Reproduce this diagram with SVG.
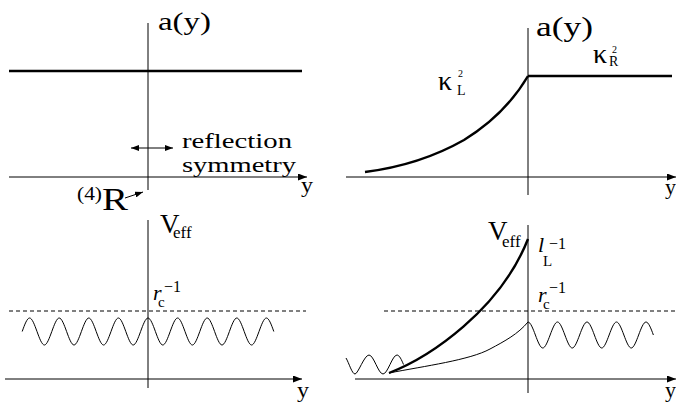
<svg xmlns="http://www.w3.org/2000/svg" width="676" height="403" viewBox="0 0 676 403" font-family="'Liberation Serif', 'Times New Roman', serif">
<style>
.ax{stroke:#000;stroke-width:1;fill:none}
.thick{stroke:#000;stroke-width:2.4;fill:none;stroke-linejoin:round}
.thin{stroke:#000;stroke-width:1;fill:none}
.dash{stroke:#000;stroke-width:1;fill:none;stroke-dasharray:4,3}
text{font-family:'Liberation Serif','Times New Roman',serif;fill:#000}
.it{font-style:italic}
</style>
<defs>
<marker id="ah" markerUnits="userSpaceOnUse" markerWidth="9" markerHeight="7" refX="9" refY="3.5" orient="auto">
<path d="M0,0 L9,3.5 L0,7 z" fill="#000"/>
</marker>
<marker id="sm" markerUnits="userSpaceOnUse" markerWidth="8" markerHeight="6" refX="8" refY="3" orient="auto-start-reverse">
<path d="M0,0 L8,3 L0,6 z" fill="#000"/>
</marker>
</defs>
<rect width="676" height="403" fill="#fff"/>

<g id="connectors">
<!-- top-left panel -->
<line class="ax" x1="148" y1="23" x2="148" y2="190"/>
<line class="ax" x1="9" y1="177" x2="307" y2="177" marker-end="url(#ah)"/>
<line class="thick" x1="9" y1="71" x2="302" y2="71"/>
<line class="thin" x1="131" y1="148" x2="173" y2="148" marker-start="url(#sm)" marker-end="url(#sm)"/>
<line class="thin" x1="125" y1="198" x2="143" y2="192" marker-end="url(#sm)"/>
<!-- top-right panel -->
<line class="ax" x1="528" y1="28" x2="528" y2="195"/>
<line class="ax" x1="346" y1="177" x2="676" y2="177" marker-end="url(#ah)"/>
<line class="thick" x1="528" y1="76" x2="672" y2="76"/>
<path class="thick" d="M365,172 Q420,165 464,140 Q505,115 528,76"/>
<!-- bottom-left panel -->
<line class="ax" x1="148" y1="220" x2="148" y2="388"/>
<line class="ax" x1="5" y1="379" x2="302" y2="379" marker-end="url(#ah)"/>
<line class="dash" x1="9" y1="311" x2="306" y2="311"/>
<path class="thin" d="M22.2,331.5 C24.67,324.43 27.13,318 29.6,318 C34.53,318 39.47,345 44.4,345 S54.27,318 59.2,318 S69.07,345 74,345 S83.87,318 88.8,318 S98.67,345 103.6,345 S113.47,318 118.4,318 S128.27,345 133.2,345 S143.07,318 148,318 S157.87,345 162.8,345 S172.67,318 177.6,318 S187.47,345 192.4,345 S202.27,318 207.2,318 S217.07,345 222,345 S231.87,318 236.8,318 S246.67,345 251.6,345 S261.47,318 266.4,318 C268.87,318 271.33,324.43 273.8,331.5"/>
<!-- bottom-right panel -->
<line class="ax" x1="528" y1="225" x2="528" y2="393"/>
<line class="ax" x1="355" y1="379" x2="676" y2="379" marker-end="url(#ah)"/>
<line class="dash" x1="384" y1="311" x2="676" y2="311"/>
<path class="thick" d="M389,373 C430,357 500,310 528,239"/>
<path class="thin" d="M389,373 C425,366 470,360 490,349 C505,341 518,334 528,322"/>
<path class="thin" d="M528,322 C532.92,322 537.83,348 542.75,348 S552.58,322 557.5,322 S567.33,348 572.25,348 S582.08,322 587,322 S596.83,348 601.75,348 S611.58,322 616.5,322 S626.33,348 631.25,348 S641.08,322 646,322 C648.46,322 650.92,328.19 653.38,335"/>
<path class="thin" d="M346,358 C349,363 352,374 355,374 S364.33,355 369,355 S378.33,374 383,374 S392.33,355 397,355 C399.33,355 401.67,360 403.5,364.5"/>
</g>

<g id="label-top-left">
<text x="158" y="30" font-size="25" textLength="53" lengthAdjust="spacingAndGlyphs">a(y)</text>
<text x="182" y="148" font-size="22" textLength="110" lengthAdjust="spacingAndGlyphs">reflection</text>
<text x="182" y="172" font-size="22" textLength="114" lengthAdjust="spacingAndGlyphs">symmetry</text>
<text x="301" y="192" font-size="22" textLength="12" lengthAdjust="spacingAndGlyphs">y</text>
<text x="77" y="200" font-size="19" textLength="25" lengthAdjust="spacingAndGlyphs">(4)</text>
<text x="102" y="210" font-size="31" textLength="26" lengthAdjust="spacingAndGlyphs">R</text>
</g>

<g id="label-top-right">
<text x="536" y="36" font-size="28" textLength="57" lengthAdjust="spacingAndGlyphs">a(y)</text>
<text x="438" y="90" font-size="28">κ<tspan x="458" y="77" font-size="10">2</tspan><tspan x="457" y="95" font-size="14">L</tspan></text>
<text x="593" y="63" font-size="28">κ<tspan x="612" y="53" font-size="10">2</tspan><tspan x="609" y="66" font-size="14">R</tspan></text>
<text x="665" y="194" font-size="22" textLength="11" lengthAdjust="spacingAndGlyphs">y</text>
</g>

<g id="label-bottom-left">
<text x="160" y="233" font-size="27">V<tspan x="173" y="238" font-size="17">eff</tspan></text>
<text class="it" x="153" y="300" font-size="22">r<tspan x="158" y="307" font-size="15" font-style="normal">c</tspan><tspan x="164" y="292" font-size="16" font-style="normal">−1</tspan></text>
<text x="297" y="397" font-size="22" textLength="12" lengthAdjust="spacingAndGlyphs">y</text>
</g>

<g id="label-bottom-right">
<text x="488" y="240" font-size="27">V<tspan x="502" y="247" font-size="17">eff</tspan></text>
<text class="it" x="538" y="252" font-size="22">l<tspan x="543" y="266" font-size="15" font-style="normal">L</tspan><tspan x="549" y="249" font-size="16" font-style="normal">−1</tspan></text>
<text class="it" x="538" y="302" font-size="22">r<tspan x="543" y="309" font-size="15" font-style="normal">c</tspan><tspan x="549" y="293" font-size="16" font-style="normal">−1</tspan></text>
<text x="665" y="397" font-size="22" textLength="11" lengthAdjust="spacingAndGlyphs">y</text>
</g>
</svg>
